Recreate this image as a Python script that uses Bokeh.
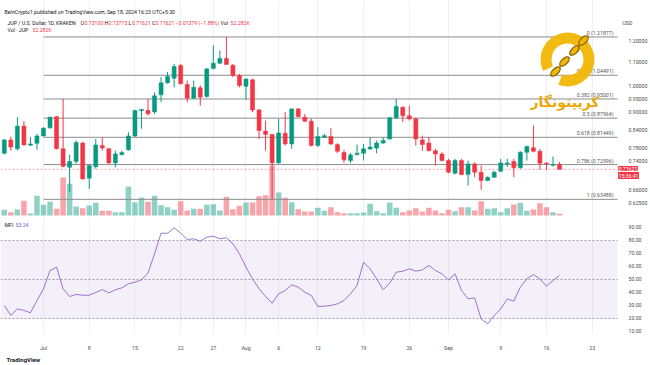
import math
import pandas as pd
from bokeh.plotting import figure
from bokeh.layouts import column
from bokeh.models import (Range1d, FixedTicker, PrintfTickFormatter, BoxAnnotation,
                          Label, ColumnDataSource, LinearScale, Title)
from bokeh.core.properties import value
from bokeh.embed import file_html
from bokeh.resources import INLINE

# ---------------- data ----------------
dates = pd.date_range("2024-06-25", "2024-09-18", freq="D")
ref_date = pd.Timestamp("2024-07-01")

opens = [0.764, 0.806, 0.778, 0.852, 0.789, 0.795,
         0.819, 0.846, 0.885, 0.778, 0.722, 0.739, 0.796, 0.691, 0.724, 0.788,
         0.778, 0.735, 0.760, 0.7745, 0.819, 0.907, 0.907, 0.902, 0.966, 1.014,
         1.033, 1.087, 1.007, 0.953, 0.994, 0.960, 1.074, 1.097, 1.118, 1.088,
         1.044, 1.000, 1.026, 0.909, 0.835, 0.824, 0.735, 0.828, 0.793, 0.913,
         0.883, 0.869, 0.788, 0.815, 0.817, 0.791, 0.766, 0.742, 0.760, 0.764,
         0.777, 0.780, 0.796, 0.809, 0.881, 0.919, 0.888, 0.877, 0.806, 0.796,
         0.772, 0.762, 0.742, 0.705, 0.742, 0.7015, 0.732, 0.708, 0.685, 0.694,
         0.711, 0.732, 0.739, 0.7205, 0.767, 0.781, 0.770, 0.734, 0.728, 0.73100]
highs = [0.809, 0.817, 0.883, 0.869, 0.815, 0.826,
         0.848, 0.885, 0.887, 0.950, 0.759, 0.804, 0.800, 0.730, 0.809, 0.815,
         0.780, 0.772, 0.772, 0.831, 0.910, 0.913, 0.950, 0.975, 1.037, 1.058,
         1.094, 1.094, 1.023, 1.023, 1.003, 1.076, 1.178, 1.154, 1.21877, 1.094,
         1.051, 1.032, 1.030, 0.913, 0.871, 0.826, 0.877, 0.901, 0.915, 0.916,
         0.895, 0.877, 0.848, 0.826, 0.845, 0.795, 0.775, 0.765, 0.791, 0.793,
         0.815, 0.804, 0.815, 0.883, 0.950, 0.922, 0.925, 0.883, 0.820, 0.815,
         0.778, 0.767, 0.747, 0.747, 0.747, 0.742, 0.737, 0.727, 0.696, 0.712,
         0.747, 0.747, 0.747, 0.770, 0.788, 0.854, 0.7776, 0.737, 0.754, 0.73715]
lows = [0.760, 0.772, 0.772, 0.788, 0.788, 0.775,
        0.817, 0.843, 0.776, 0.722, 0.655, 0.732, 0.688, 0.662, 0.718, 0.772,
        0.732, 0.722, 0.757, 0.772, 0.815, 0.843, 0.889, 0.895, 0.938, 1.010,
        0.996, 1.007, 0.938, 0.950, 0.925, 0.955, 1.069, 1.094, 1.091, 1.037,
        0.996, 0.947, 0.901, 0.809, 0.772, 0.63488, 0.733, 0.788, 0.778, 0.883,
        0.866, 0.785, 0.783, 0.812, 0.790, 0.765, 0.735, 0.735, 0.757, 0.742,
        0.775, 0.764, 0.793, 0.807, 0.877, 0.866, 0.871, 0.788, 0.772, 0.770,
        0.727, 0.740, 0.705, 0.7015, 0.699, 0.671, 0.694, 0.6595, 0.683, 0.692,
        0.708, 0.723, 0.694, 0.718, 0.742, 0.767, 0.715, 0.715, 0.724, 0.71621]
closes = [0.806, 0.783, 0.852, 0.790, 0.793, 0.819,
          0.845, 0.883, 0.778, 0.725, 0.739, 0.798, 0.689, 0.727, 0.790, 0.780,
          0.735, 0.762, 0.766, 0.819, 0.907, 0.911, 0.895, 0.962, 1.014, 1.040,
          1.082, 1.010, 0.953, 0.996, 0.957, 1.072, 1.097, 1.118, 1.091, 1.044,
          1.003, 1.029, 0.909, 0.837, 0.824, 0.735, 0.829, 0.793, 0.913, 0.885,
          0.869, 0.788, 0.817, 0.820, 0.793, 0.770, 0.744, 0.759, 0.764, 0.778,
          0.783, 0.796, 0.804, 0.881, 0.922, 0.888, 0.877, 0.809, 0.791, 0.772,
          0.762, 0.742, 0.708, 0.742, 0.7015, 0.732, 0.708, 0.685, 0.694, 0.708,
          0.735, 0.735, 0.7205, 0.767, 0.785, 0.770, 0.734, 0.732, 0.730, 0.71621]
volumes_k = [179, 105, 189, 462, 63, 620,
             336, 431, 210, 1197, 998, 284, 231, 315, 399, 147,
             147, 105, 105, 914, 420, 567, 431, 620, 326, 263,
             179, 452, 158, 210, 210, 336, 357, 158, 588, 200,
             305, 410, 410, 609, 641, 1575, 725, 557, 420, 200,
             126, 126, 242, 147, 263, 105, 74, 74, 74, 95,
             368, 137, 74, 410, 242, 105, 158, 231, 126, 242,
             158, 74, 179, 137, 263, 263, 158, 452, 210, 231,
             105, 231, 347, 399, 147, 189, 389, 263, 105, 52.282]
mfi = [30.0, 22.3, 27.4, 26.2, 24.4, 33.8,
       42.8, 56.9, 59.5, 42.8, 36.9, 38.5, 37.9, 37.9, 40.0, 42.3,
       39.7, 42.1, 43.6, 46.7, 47.9, 49.7, 54.9, 69.7, 85.6, 85.6,
       89.7, 85.6, 80.8, 81.3, 79.5, 82.6, 83.3, 81.3, 82.1, 77.4,
       69.7, 59.5, 50.5, 42.8, 36.9, 31.8, 39.0, 41.5, 45.9, 44.1,
       40.3, 37.7, 29.2, 29.5, 30.0, 31.3, 33.8, 39.0, 45.4, 63.3,
       58.2, 50.5, 42.1, 47.2, 55.6, 56.4, 58.2, 56.4, 57.4, 60.8,
       56.9, 54.4, 49.7, 54.4, 41.5, 35.1, 35.9, 19.7, 15.9, 22.3,
       27.4, 35.1, 33.3, 44.1, 50.5, 53.8, 50.5, 44.9, 49.2, 53.24]

fib_ratios = [0, 0.236, 0.382, 0.5, 0.618, 0.786, 1]
fib_prices = [1.21877, 1.04491, 0.95001, 0.87964, 0.81449, 0.72996, 0.63488]
fib_start = "2024-07-01"

price_ticks = [1.2, 1.1, 1.0, 0.95, 0.9, 0.84, 0.78, 0.74, 0.66, 0.625]
mfi_ticks = [10, 20, 30, 40, 50, 60, 70, 80, 90]
mfi_levels = [20, 50, 80]
tick_dates = ["2024-07-01", "2024-07-08", "2024-07-15", "2024-07-22", "2024-07-27",
              "2024-08-01", "2024-08-06", "2024-08-12", "2024-08-19", "2024-08-26",
              "2024-09-01", "2024-09-09", "2024-09-16", "2024-09-23"]
tick_labels = ["Jul", "8", "15", "22", "27", "Aug", "6", "12", "19", "26",
               "Sep", "9", "16", "23"]

# ---------------- styling / layout constants ----------------
GREEN = "#089981"
RED = "#f23645"
TXT = "#131722"
AX = "#4a4a4a"
FONT = "Roboto"
FS = "5.2px"

X_START = -6.583           # day index at the left edge
DAYS_PER_PX = 1 / 6.532
FRAME_W = 646              # axis labels are drawn inside the frame's right strip
PLOT_RIGHT = 617           # where the chart body ends
LABEL_X = 622              # left edge of the right-axis labels
P_LO, P_HI = 0.5855, 1.4109
H1 = 219
M_LO, M_HI = 7.69, 96.15
FH2 = 115
BOTTOM = 365 - H1 - FH2


def xp(px):
    return X_START + px * DAYS_PER_PX


def yp(py):
    return math.exp(math.log(P_HI) - py / H1 * math.log(P_HI / P_LO))


def ym(py):
    return M_HI - (py - H1) / FH2 * (M_HI - M_LO)


X_END = xp(FRAME_W)
X_BODY = xp(PLOT_RIGHT)

x = [(d - ref_date).days for d in dates]
up = [c >= o for o, c in zip(opens, closes)]
colors = [GREEN if u else RED for u in up]
src = ColumnDataSource(dict(
    x=x, o=opens, h=highs, l=lows, c=closes,
    top=[max(o, c) for o, c in zip(opens, closes)],
    bot=[min(o, c) for o, c in zip(opens, closes)],
    vol=volumes_k, color=colors, mfi=mfi))

xr = Range1d(X_START, X_END)
tick_x = [(pd.Timestamp(t) - ref_date).days for t in tick_dates]


def style_axis(ax, standoff):
    ax.axis_line_color = None
    ax.major_tick_line_color = None
    ax.minor_tick_line_color = None
    ax.major_label_text_font_size = FS
    ax.major_label_text_font = FONT
    ax.major_label_text_color = AX
    ax.major_label_standoff = standoff


# ---------------- price pane ----------------
p1 = figure(frame_width=FRAME_W, frame_height=H1, x_range=xr, y_range=Range1d(P_LO, P_HI),
            y_axis_type="log", y_axis_location="right", x_axis_location=None,
            toolbar_location=None, output_backend="svg",
            min_border_left=0, min_border_right=0,
            min_border_top=0, min_border_bottom=0, outline_line_color=None,
            background_fill_color="white", border_fill_color="white")
p1.extra_y_ranges = {"vol": Range1d(-4 * 31.5, (H1 - 4) * 31.5)}
p1.extra_y_scales = {"vol": LinearScale()}

p1.yaxis.ticker = FixedTicker(ticks=price_ticks)
p1.yaxis.formatter = PrintfTickFormatter(format="%.5f")
style_axis(p1.yaxis, LABEL_X - FRAME_W)
p1.xgrid.ticker = FixedTicker(ticks=tick_x)
p1.xgrid.grid_line_color = "#f1f1f3"
p1.ygrid.grid_line_color = None

# volume
p1.vbar(x="x", top="vol", bottom=0, width=0.85, fill_color="color", line_color=None,
        fill_alpha=0.45, y_range_name="vol", source=src)

# fib levels
fx0 = (pd.Timestamp(fib_start) - ref_date).days
n_fib = len(fib_prices)
p1.segment(x0=[fx0] * n_fib, x1=[X_BODY] * n_fib,
           y0=fib_prices, y1=fib_prices, line_color="#8c8c8c", line_width=1)
fib_text = [f"{r:g} ({v:.5f})" for r, v in zip(fib_ratios, fib_prices)]
p1.text(x=[X_BODY] * n_fib, y=fib_prices, text=fib_text,
        text_align="right", text_baseline="bottom", x_offset=-4, y_offset=-1,
        text_font_size=FS, text_font=value(FONT), text_color="#555555")

# current price line
p1.segment(x0=[X_START], x1=[X_BODY], y0=[closes[-1]], y1=[closes[-1]],
           line_color=RED, line_alpha=0.45, line_dash="2 2", line_width=1)

# candles
p1.segment(x0="x", x1="x", y0="l", y1="h", line_color="color", line_width=1, source=src)
p1.vbar(x="x", top="top", bottom="bot", width=0.62, fill_color="color",
        line_color="color", line_width=0.5, source=src)

# watermark (logo)
GOLD = "#f2b705"
p1.annular_wedge(x=[xp(567)], y=[yp(59)], inner_radius=16, outer_radius=27,
                 inner_radius_units="screen", outer_radius_units="screen",
                 start_angle=math.radians(250), end_angle=math.radians(205),
                 direction="anticlock", fill_color=GOLD, line_color=None,
                 fill_alpha=0.95)
p1.ellipse(x=[xp(583), xp(574), xp(564), xp(555)],
           y=[yp(40), yp(50), yp(61), yp(71)],
           width=12, height=6, width_units="screen", height_units="screen",
           angle=math.radians(45), fill_color=GOLD, line_color="#7a5600",
           line_width=1.2)
p1.add_layout(Label(x=xp(599), y=yp(101), text="کریپتونگار", text_align="right",
                    text_baseline="middle", text_font_size="14px",
                    text_font="DejaVu Sans", text_font_style="bold",
                    text_color="#e9a805"))


# header texts
def hdr(px, py, text, color=TXT, fs=FS):
    p1.add_layout(Label(x=xp(px), y=yp(py), text=text, text_baseline="middle",
                        text_font_size=fs, text_font=FONT, text_color=color))


hdr(4, 11, "BeInCrypto1 published on TradingView.com, Sep 18, 2024 16:23 UTC+5:30")
hdr(7, 22, "JUP / U.S. Dollar, 1D, KRAKEN")
hdr(80, 22, "O")
hdr(84, 22, f"{opens[-1]:.5f}", RED)
hdr(104, 22, "H")
hdr(108, 22, f"{highs[-1]:.5f}", RED)
hdr(128, 22, "L")
hdr(131.5, 22, f"{lows[-1]:.5f}", RED)
hdr(151.5, 22, "C")
hdr(155, 22, f"{closes[-1]:.5f}", RED)
hdr(175, 22, "−0.01379 (−1.88%)", RED)
hdr(220, 22, "Vol")
hdr(230, 22, f"{volumes_k[-1]:.3f}K", RED)
hdr(7, 29, "Vol · JUP")
hdr(32, 29, f"{volumes_k[-1]:.3f}K", RED)
hdr(LABEL_X, 22, "USD", AX)

# price box on axis
for py, txt in ((166, f"{closes[-1]:.5f}"), (172, "15:36:41")):
    p1.add_layout(Label(x=xp(618), y=yp(py), text=txt,
                        text_baseline="top", text_font_size=FS, text_font=FONT,
                        text_color="white", background_fill_color=RED,
                        border_line_color=RED))

# ---------------- MFI pane ----------------
p2 = figure(frame_width=FRAME_W, frame_height=FH2, x_range=xr, y_range=Range1d(M_LO, M_HI),
            y_axis_location="right", toolbar_location=None, output_backend="svg",
            min_border_left=0, min_border_right=0, min_border_top=0,
            min_border_bottom=BOTTOM, outline_line_color=None,
            background_fill_color="white", border_fill_color="white")
p2.yaxis.ticker = FixedTicker(ticks=mfi_ticks)
p2.yaxis.formatter = PrintfTickFormatter(format="%.2f")
p2.xaxis.ticker = FixedTicker(ticks=tick_x)
p2.xaxis.major_label_overrides = {t: lab for t, lab in zip(tick_x, tick_labels)}
style_axis(p2.yaxis, LABEL_X - FRAME_W)
style_axis(p2.xaxis, 4)
p2.xgrid.ticker = FixedTicker(ticks=tick_x)
p2.xgrid.grid_line_color = "#f1f1f3"
p2.ygrid.grid_line_color = None

p2.add_layout(BoxAnnotation(left=X_START, right=X_BODY, bottom=mfi_levels[0],
                            top=mfi_levels[-1], fill_color="#7e57c2", fill_alpha=0.09,
                            line_color=None))
n_lv = len(mfi_levels)
p2.segment(x0=[X_START] * n_lv, x1=[X_BODY] * n_lv, y0=mfi_levels, y1=mfi_levels,
           line_color="#787b86", line_alpha=0.7, line_dash="2 2", line_width=1)
p2.line(x="x", y="mfi", line_color="#7e57c2", line_width=1, line_alpha=0.8, source=src)

p2.add_layout(Label(x=xp(4), y=ym(224), text="MFI", text_baseline="middle",
                    text_font_size=FS, text_font=FONT, text_color=TXT))
p2.add_layout(Label(x=xp(15), y=ym(224), text=f"{mfi[-1]:.2f}", text_baseline="middle",
                    text_font_size=FS, text_font=FONT, text_color="#7e57c2"))
p2.add_layout(Title(text="TradingView", align="left", text_font_size="6px",
                    text_font=FONT, text_font_style="bold", text_color=TXT,
                    standoff=0, offset=6), "below")

layout = column(p1, p2, spacing=0)
open("out.html", "w").write(file_html(layout, INLINE))
